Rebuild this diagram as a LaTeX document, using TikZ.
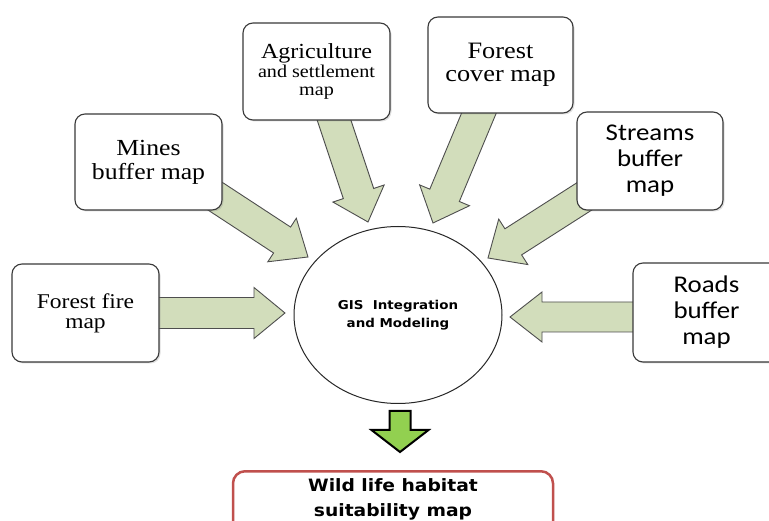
\documentclass[tikz,border=0pt]{standalone}
\usepackage{fontspec}
\usetikzlibrary{calc,shapes.geometric,shadows}
\newfontfamily\serw[FakeStretch=1.12]{Liberation Serif}
\newfontfamily\sanw[FakeStretch=1.12]{Carlito}
\newfontfamily\boldw[FakeStretch=1.1]{DejaVu Sans}
\definecolor{arrowfill}{HTML}{D2DDBB}
\definecolor{boxline}{HTML}{3A3A3A}
\definecolor{outred}{HTML}{C0504D}
\definecolor{downgreen}{HTML}{92D050}
\newcommand\fatarrow[6]{%
  \coordinate (fh) at ($(#2)!#5!(#1)$);
  \draw[#6] ($(#1)!#3!90:(#2)$) -- ($(fh)!#3!90:(#2)$) -- ($(fh)!#4!90:(#2)$) -- (#2)
    -- ($(fh)!#4!-90:(#2)$) -- ($(fh)!#3!-90:(#2)$) -- ($(#1)!#3!-90:(#2)$) -- cycle;}
\tikzset{
  mapbox/.style={draw=boxline, line width=1.1pt, fill=white, rounded corners=10pt,
    align=center, inner sep=2pt,
    drop shadow={shadow xshift=1.5pt, shadow yshift=-1.5pt, opacity=0.25}},
  fat/.style={draw=boxline!90, line width=0.9pt, fill=arrowfill, line join=miter},
}
\begin{document}
\begin{tikzpicture}[x=1pt,y=-1pt]
\useasboundingbox[fill=white] (0,0) rectangle (769,521);
% central ellipse
\node[draw=black!85, line width=1pt, ellipse, minimum width=208pt, minimum height=177pt,
  inner sep=0pt, align=center, fill=white,
  font={\boldw\bfseries\fontsize{12.2}{18.5}\selectfont}] (gis) at (398,315)
  {GIS~~Integration\\and Modeling};
% arrow endpoints
\coordinate (ffA) at (140,313);  \coordinate (ffB) at (285,313);
\coordinate (miA) at (195,183);  \coordinate (miB) at (308,257);
\coordinate (agA) at (326,96);   \coordinate (agB) at (368,222);
\coordinate (fcA) at (489,89);   \coordinate (fcB) at (433,223);
\coordinate (stA) at (610,180);  \coordinate (stB) at (488,258);
\coordinate (roA) at (650,317);  \coordinate (roB) at (510,317);
\fatarrow{ffA}{ffB}{15.5pt}{25.5pt}{31pt}{fat}
\fatarrow{miA}{miB}{15.5pt}{26pt}{31pt}{fat}
\fatarrow{agA}{agB}{16pt}{27pt}{30pt}{fat}
\fatarrow{fcA}{fcB}{16pt}{27pt}{30pt}{fat}
\fatarrow{stA}{stB}{15.5pt}{27pt}{30pt}{fat}
\fatarrow{roA}{roB}{15pt}{25pt}{32pt}{fat}
% input boxes
\node[mapbox, minimum width=147pt, minimum height=98pt,
  font={\serw\fontsize{21}{20}\selectfont}] (fire) at (85.5,313)
  {Forest fire\\map};
\node[mapbox, minimum width=147pt, minimum height=96pt,
  font={\serw\fontsize{23}{24}\selectfont}] (mines) at (148.5,162)
  {Mines\\buffer map};
\node[mapbox, minimum width=147pt, minimum height=97pt,
  font={\serw\fontsize{18}{18.5}\selectfont}] (agri) at (316.5,71.5)
  {{\fontsize{21.5}{18.5}\selectfont Agriculture}\\and settlement\\map};
\node[mapbox, minimum width=145pt, minimum height=96pt,
  font={\serw\fontsize{23.5}{23}\selectfont}] (cover) at (500.5,65)
  {Forest\\cover map};
\node[mapbox, minimum width=146pt, minimum height=98pt,
  font={\sanw\fontsize{24}{26}\selectfont}] (streams) at (650,161)
  {Streams\\buffer\\map};
\node[mapbox, minimum width=147pt, minimum height=99pt,
  font={\sanw\fontsize{24}{26}\selectfont}] (roads) at (706.5,312.5)
  {Roads\\buffer\\map};
% output
\coordinate (dnA) at (400,411); \coordinate (dnB) at (400,452);
\fatarrow{dnA}{dnB}{10.5pt}{28.5pt}{22pt}{draw=black, line width=2pt, fill=downgreen, line join=miter}
\node[draw=outred, line width=2.5pt, rounded corners=12pt, fill=white, align=center,
  minimum width=320pt, minimum height=80pt, anchor=north,
  font={\boldw\bfseries\fontsize{17}{25}\selectfont}] (out) at (393,470)
  {Wild life habitat\\suitability map\\[3pt]};
\end{tikzpicture}
\end{document}
